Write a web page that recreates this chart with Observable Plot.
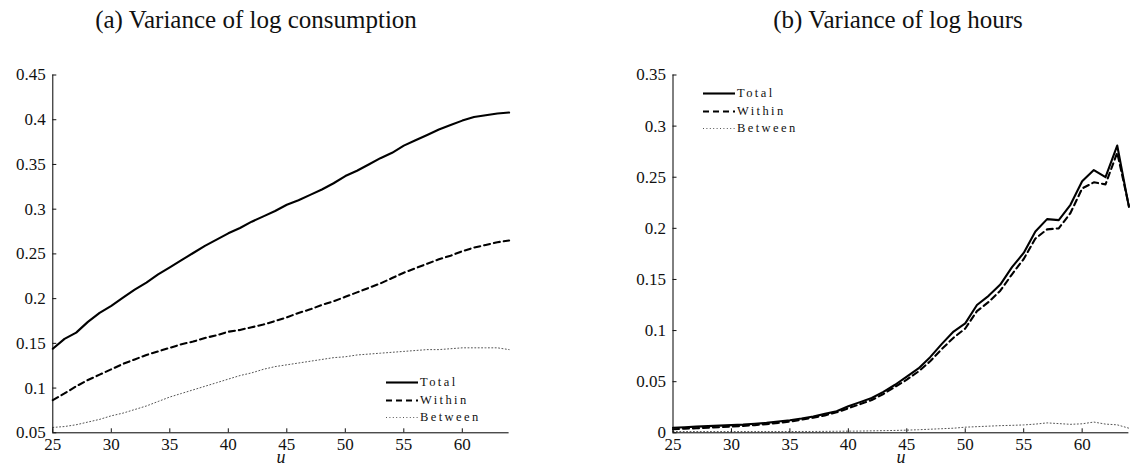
<!DOCTYPE html>
<html>
<head>
<meta charset="utf-8">
<script src="https://cdn.jsdelivr.net/npm/d3@7"></script>
<script src="https://cdn.jsdelivr.net/npm/@observablehq/plot@0.6"></script>
<style>
  html, body { margin: 0; padding: 0; background: #fff; }
  #page { position: relative; width: 1133px; height: 469px; overflow: hidden; font-family: 'Liberation Serif', serif; }
  .panel { position: absolute; top: 0; }
  .title { height: 40px; }
  .ttl { position: absolute; top: 0; height: 40px; line-height: 40px; font-family: 'Liberation Serif', serif; font-size: 25px; white-space: nowrap; transform: translateX(-50%); color: #111; }
  .legend { position: absolute; font-family: 'Liberation Serif', serif; font-size: 12.5px; letter-spacing: 2.4px; color: #111; }
  .legend .row { position: absolute; left: 0; height: 17px; white-space: nowrap; }
  .legend svg { position: absolute; left: 0; top: 0; }
  .legend span { position: absolute; top: 0; line-height: 17px; }
  svg text { font-family: 'Liberation Serif', serif; }
</style>
</head>
<body>
<div id="page"></div>
<script>
const ages = d3.range(25, 65);

// (a) Variance of log consumption
const consTotal = [0.144,0.155,0.162,0.174,0.184,0.192,0.201,0.210,0.218,0.227,
  0.235,0.243,0.251,0.259,0.266,0.273,0.279,0.286,0.292,0.298,
  0.305,0.310,0.316,0.322,0.329,0.337,0.343,0.350,0.357,0.363,
  0.371,0.377,0.383,0.389,0.394,0.399,0.403,0.405,0.407,0.408];
const consWithin = [0.0865,0.094,0.102,0.109,0.115,0.121,0.127,0.132,0.137,0.141,
  0.145,0.149,0.152,0.156,0.159,0.163,0.165,0.168,0.171,0.175,
  0.179,0.184,0.188,0.193,0.197,0.202,0.207,0.212,0.217,0.223,
  0.229,0.234,0.239,0.244,0.248,0.253,0.257,0.260,0.263,0.265];
const consBetween = [0.056,0.057,0.059,0.062,0.065,0.069,0.072,0.076,0.080,0.085,
  0.090,0.094,0.098,0.102,0.106,0.110,0.114,0.117,0.121,0.124,
  0.126,0.128,0.130,0.132,0.134,0.135,0.137,0.138,0.139,0.140,
  0.141,0.142,0.143,0.143,0.144,0.145,0.145,0.145,0.145,0.143];

// (b) Variance of log hours
const hoursTotal = [0.005,0.0055,0.006,0.0065,0.007,0.0075,0.008,0.0088,0.0097,0.011,
  0.0123,0.014,0.016,0.0185,0.021,0.026,0.030,0.034,0.040,0.047,
  0.055,0.063,0.074,0.087,0.099,0.107,0.125,0.134,0.145,0.162,
  0.176,0.197,0.209,0.208,0.223,0.246,0.257,0.250,0.281,0.221];
const hoursWithin = [0.0035,0.004,0.0045,0.005,0.0055,0.006,0.0068,0.0075,0.0085,0.0097,
  0.011,0.0128,0.0148,0.017,0.020,0.024,0.028,0.032,0.038,0.045,
  0.052,0.060,0.070,0.082,0.093,0.102,0.119,0.128,0.139,0.155,
  0.170,0.190,0.199,0.200,0.215,0.239,0.245,0.243,0.274,0.222];
const hoursBetween = [0.0012,0.0012,0.0012,0.0012,0.0012,0.0012,0.0012,0.0012,0.0012,0.0012,
  0.0012,0.0013,0.0013,0.0014,0.0015,0.0016,0.0017,0.0019,0.0021,0.0023,
  0.0026,0.003,0.0035,0.004,0.0045,0.0055,0.006,0.0065,0.007,0.0073,
  0.0077,0.0085,0.0097,0.009,0.0083,0.0088,0.0105,0.0085,0.0078,0.0045];

const xTicks = [25,30,35,40,45,50,55,60];
const yTicksA = [0.05,0.1,0.15,0.2,0.25,0.3,0.35,0.4,0.45];
const yTicksB = [0,0.05,0.1,0.15,0.2,0.25,0.3,0.35];
const seriesNames = ["Total","Within","Between"];
const titles = ["(a) Variance of log consumption", "(b) Variance of log hours"];
const xLabel = "u";

const styles = [
  {stroke: "#000", strokeWidth: 2.1},
  {stroke: "#000", strokeWidth: 2.1, strokeDasharray: "6,4"},
  {stroke: "#555", strokeWidth: 1, strokeDasharray: "1,2.4"}
];

const FONT = "'Liberation Serif', serif";
const fmt = d => String(+d.toFixed(2));

function panel({left, width, mLeft, mRight, yDomain, yTicks, series}) {
  const div = document.createElement("div");
  div.className = "panel";
  div.style.left = left + "px";
  div.style.width = width + "px";
  const t = document.createElement("div");
  t.className = "title";
  div.appendChild(t);
  const chart = Plot.plot({
    width, height: 429,
    marginLeft: mLeft, marginRight: mRight, marginTop: 34.5, marginBottom: 36.7,
    style: `font-family: ${FONT}; font-size: 17px; color: #111; background: transparent;`,
    x: {domain: [25, 64], label: null},
    y: {domain: yDomain, label: null},
    marks: [
      ...series.map((s, i) => Plot.line(s, {x: ages, y: d => d, ...styles[i]})),
      Plot.ruleX([25], {stroke: "#000", strokeWidth: 1}),
      Plot.ruleY([yDomain[0]], {stroke: "#000", strokeWidth: 1}),
      Plot.axisY({ticks: yTicks, tickSize: 4, dx: 4, fill: "none", label: null}),
      Plot.axisY({ticks: yTicks, tickSize: 0, tickPadding: 7, tickFormat: fmt, label: null,
        fontSize: 17, fontFamily: FONT, fill: "#111"}),
      Plot.axisX({ticks: xTicks, tickSize: 4, dy: -4, fill: "none", label: null}),
      Plot.axisX({ticks: xTicks, tickSize: 0, tickPadding: 5, label: null,
        fontSize: 17, fontFamily: FONT, fill: "#111"}),
      Plot.text([xLabel], {frameAnchor: "bottom", dy: 30, fontStyle: "italic", fontSize: 18,
        fontFamily: FONT, fill: "#111", text: d => d})
    ]
  });
  div.appendChild(chart);
  return div;
}

const page = document.getElementById("page");
page.appendChild(panel({left: 0, width: 566, mLeft: 52.3, mRight: 57.4,
  yDomain: [0.05, 0.45], yTicks: yTicksA, series: [consTotal, consWithin, consBetween]}));
page.appendChild(panel({left: 566, width: 567, mLeft: 106.5, mRight: 4.6,
  yDomain: [0, 0.35], yTicks: yTicksB, series: [hoursTotal, hoursWithin, hoursBetween]}));

// titles
[[titles[0], 256], [titles[1], 898]].forEach(([txt, cx]) => {
  const d = document.createElement("div");
  d.className = "ttl";
  d.style.left = cx + "px";
  d.textContent = txt;
  page.appendChild(d);
});

// legends
function legend(x, y) {
  const lg = document.createElement("div");
  lg.className = "legend";
  lg.style.left = x + "px";
  lg.style.top = y + "px";
  seriesNames.forEach((name, i) => {
    const row = document.createElement("div");
    row.className = "row";
    row.style.top = (i * 17.5) + "px";
    const s = styles[i];
    row.innerHTML = `<svg width="32" height="17"><line x1="0" x2="32" y1="8.5" y2="8.5" stroke="${s.stroke}" stroke-width="${s.strokeWidth}" ${s.strokeDasharray ? `stroke-dasharray="${s.strokeDasharray}"` : ""}/></svg><span style="left:34px">${name}</span>`;
    lg.appendChild(row);
  });
  page.appendChild(lg);
}
legend(386, 374);
legend(703, 85);
</script>
</body>
</html>
